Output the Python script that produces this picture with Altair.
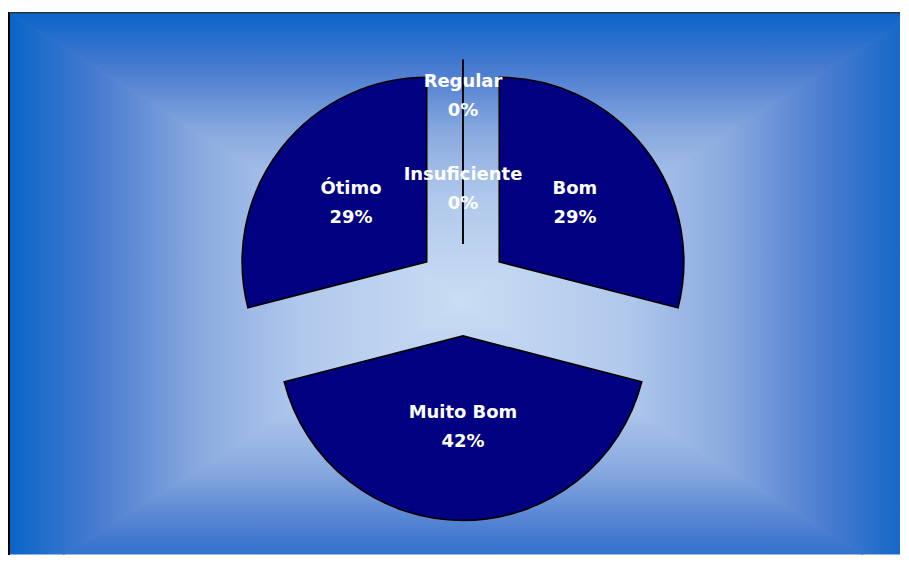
import altair as alt
import pandas as pd

# ---- data ----
categories = ["Regular", "Insuficiente", "Bom", "Muito Bom", "Ótimo"]
values = [0, 0, 29, 42, 29]

# ---- layout / style constants ----
W, H = 893, 543            # visible plot area
WF, HF = 910, 578          # full (partly cut-off) frame used for the gradient
CX, CY = 455, 278          # pie centre inside plot area
R = 185                    # pie radius
EXPLODE = 46               # slice explosion distance
LABEL_DIST = {"Regular": 148, "Insuficiente": 55, "Muito Bom": 92}
DEFAULT_LABEL_DIST = 96
LINE_H = 29
SLICE_FILL = "#000080"

dark, light = "#0a64c8", "#c9ddf3"
stops = [
    alt.GradientStop(color=dark, offset=0),
    alt.GradientStop(color="#4a7cd0", offset=0.2),
    alt.GradientStop(color="#8aaadf", offset=0.42),
    alt.GradientStop(color="#b0c8ec", offset=0.64),
    alt.GradientStop(color=light, offset=1),
]

df = pd.DataFrame({"cat": categories, "value": values, "order": list(range(len(categories)))})

label_expr = " : ".join(
    [f"datum.cat == '{k}' ? {v}" for k, v in LABEL_DIST.items()] + [str(DEFAULT_LABEL_DIST)]
)

base = (
    alt.Chart(df)
    .transform_window(cum="sum(value)", sort=[alt.SortField("order")], frame=[None, 0])
    .transform_joinaggregate(total="sum(value)")
    .transform_calculate(
        t0="2*PI*(datum.cum - datum.value)/datum.total",
        t1="2*PI*datum.cum/datum.total",
    )
    .transform_calculate(mid="(datum.t0 + datum.t1)/2", ld=label_expr)
    .transform_calculate(
        cx=f"{CX} + {EXPLODE}*sin(datum.mid)",
        cy=f"{CY} - {EXPLODE}*cos(datum.mid)",
    )
    .transform_calculate(
        lx="datum.cx + datum.ld*sin(datum.mid)",
        ly="datum.cy - datum.ld*cos(datum.mid)",
        label="datum.cat + '\\n' + format(datum.value/datum.total, '.0%')",
    )
)

slices = base.mark_arc(fill=SLICE_FILL, stroke="black", strokeWidth=1.6, radius=R).encode(
    theta=alt.Theta("t0:Q", scale=None),
    theta2=alt.Theta2("t1:Q"),
    x=alt.X("cx:Q", scale=None),
    y=alt.Y("cy:Q", scale=None),
)

labels = base.mark_text(
    color="white", font="DejaVu Sans", fontWeight="bold", fontSize=18,
    lineBreak="\n", lineHeight=LINE_H, align="center", baseline="middle", dy=-LINE_H / 2,
).encode(
    x=alt.X("lx:Q", scale=None),
    y=alt.Y("ly:Q", scale=None),
    text="label:N",
)

# ---- background: "from centre" rectangular gradient built from 4 triangles ----
tri_x = [0, 0.5, 1]
tri = {
    "top":    dict(a=[0, 0, 0], b=[0, 0.5, 0]),
    "bottom": dict(a=[1, 0.5, 1], b=[1, 1, 1]),
    "left":   dict(a=[0, 0, 0], b=[0, 0.5, 0]),
    "right":  dict(a=[1, 0.5, 1], b=[1, 1, 1]),
}
grad_dir = {
    "top": dict(x1=0, y1=0, x2=0, y2=1),
    "bottom": dict(x1=0, y1=1, x2=0, y2=0),
    "left": dict(x1=0, y1=0, x2=1, y2=0),
    "right": dict(x1=1, y1=0, x2=0, y2=0),
}

bg_layers = []
for side, pts in tri.items():
    d = pd.DataFrame({"t": tri_x, "a": pts["a"], "b": pts["b"]})
    g = alt.Gradient(gradient="linear", stops=stops, **grad_dir[side])
    if side in ("top", "bottom"):
        layer = (
            alt.Chart(d)
            .transform_calculate(px=f"datum.t*{WF}", py=f"datum.a*{HF}", py2=f"datum.b*{HF}")
            .mark_area(color=g, stroke=g, strokeWidth=1, clip=True, orient="vertical")
            .encode(x=alt.X("px:Q", scale=None), y=alt.Y("py:Q", scale=None), y2="py2:Q")
        )
    else:
        layer = (
            alt.Chart(d)
            .transform_calculate(py=f"datum.t*{HF}", px=f"datum.a*{WF}", px2=f"datum.b*{WF}")
            .mark_area(color=g, stroke=g, strokeWidth=1, clip=True, orient="horizontal")
            .encode(y=alt.Y("py:Q", scale=None), x=alt.X("px:Q", scale=None), x2="px2:Q")
        )
    bg_layers.append(layer)

left_border = alt.Chart(df).mark_rule(color="black", strokeWidth=2).encode(
    x=alt.value(0), y=alt.value(0), y2=alt.value(H)
)
top_border = alt.Chart(df).mark_rule(color="#333333", strokeWidth=1).encode(
    x=alt.value(0), x2=alt.value(W), y=alt.value(0)
)

chart = (
    alt.layer(*bg_layers, slices, labels, left_border, top_border)
    .properties(width=W, height=H, padding={"left": 0, "top": 3, "right": 0, "bottom": 0})
    .configure_view(stroke=None)
)

chart.save("out.html", embed_options={"renderer": "svg", "actions": False})
